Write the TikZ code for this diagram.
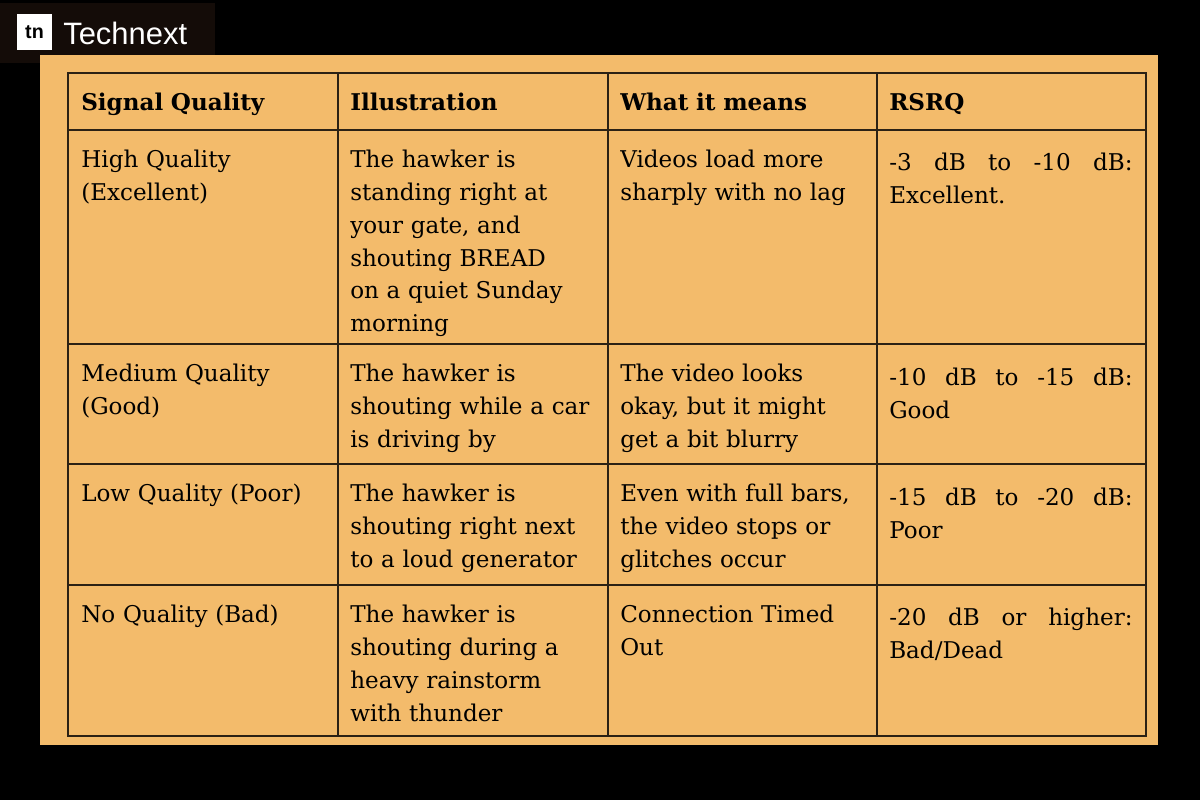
\documentclass[tikz,border=0pt]{standalone}
\usepackage{fontspec}
\setmainfont{DejaVu Serif}
\setsansfont{Liberation Sans}
\definecolor{panel}{HTML}{F3BB6B}
\definecolor{rule}{HTML}{2B2114}
\definecolor{logobg}{HTML}{140C08}
\newcommand{\spreadline}[1]{\makebox[6.08cm][l]{#1}}
\begin{document}
\begin{tikzpicture}[x=0.025cm,y=-0.025cm]
\tikzstyle{cell} = [anchor=north west, inner sep=0pt, text width=6.3cm, font=\fontsize{16.4}{23.3}\selectfont, align=left, text=black]
\tikzstyle{head} = [cell, font=\fontsize{16.4}{23.3}\selectfont\bfseries]
\tikzstyle{num} = [cell, text width=6.08cm]
\useasboundingbox (0,0) rectangle (1200,800);
\fill[black] (0,0) rectangle (1200,800);
% logo
\fill[logobg] (0,3) rectangle (215,63);
\node[fill=white, minimum size=0.875cm, inner sep=0pt, font=\sffamily\bfseries\fontsize{14}{14}\selectfont] (logo) at (34.5,32) {tn};
\node[anchor=west, text=white, inner sep=0pt, font=\sffamily\fontsize{22}{22}\selectfont] (brand) at (63,33) {Technext};
% panel and table
\fill[panel] (40,55) rectangle (1158,745);
\draw[rule, line width=1.2pt] (68,73) rectangle (1146,736);
\foreach \x in {338,608,877} \draw[rule, line width=1.2pt] (\x,73) -- (\x,736);
\foreach \y in {130,344,464,585} \draw[rule, line width=1.2pt] (68,\y) -- (1146,\y);
% header
\node[head] (h1) at (81,93) {Signal Quality};
\node[head] (h2) at (350,93) {Illustration};
\node[head] (h3) at (620,93) {What it means};
\node[head] (h4) at (889,93) {RSRQ};
% row 1
\node[cell] (a1) at (81,150) {High Quality\\(Excellent)};
\node[cell] (b1) at (350,150) {The hawker is\\standing right at\\your gate, and\\shouting BREAD\\on a quiet Sunday\\morning};
\node[cell] (c1) at (620,150) {Videos load more\\sharply with no lag};
\node[num] (d1) at (889,153) {\spreadline{-3\hfill dB\hfill to\hfill -10\hfill dB:}\\Excellent.};
% row 2
\node[cell] (a2) at (81,364) {Medium Quality\\(Good)};
\node[cell] (b2) at (350,364) {The hawker is\\shouting while a car\\is driving by};
\node[cell] (c2) at (620,364) {The video looks\\okay, but it might\\get a bit blurry};
\node[num] (d2) at (889,368) {\spreadline{-10\hfill dB\hfill to\hfill -15\hfill dB:}\\Good};
% row 3
\node[cell] (a3) at (81,484) {Low Quality (Poor)};
\node[cell] (b3) at (350,484) {The hawker is\\shouting right next\\to a loud generator};
\node[cell] (c3) at (620,484) {Even with full bars,\\the video stops or\\glitches occur};
\node[num] (d3) at (889,488) {\spreadline{-15\hfill dB\hfill to\hfill -20\hfill dB:}\\Poor};
% row 4
\node[cell] (a4) at (81,605) {No Quality (Bad)};
\node[cell] (b4) at (350,605) {The hawker is\\shouting during a\\heavy rainstorm\\with thunder};
\node[cell] (c4) at (620,605) {Connection Timed\\Out};
\node[num] (d4) at (889,608) {\spreadline{-20\hfill dB\hfill or\hfill higher:}\\Bad/Dead};
\end{tikzpicture}
\end{document}
